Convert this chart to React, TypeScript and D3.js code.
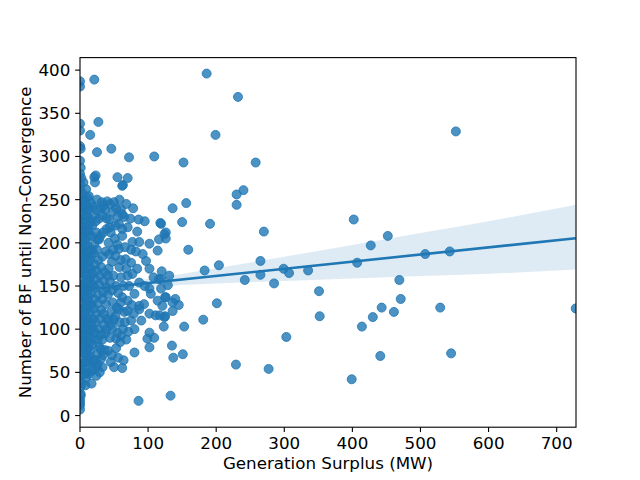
import * as d3 from "d3";

const WIDTH = 640;
const HEIGHT = 480;
const MARGIN = { top: 57.6, right: 64, bottom: 52.8, left: 80 };
const BLUE = "#1f77b4";
const FONT = "DejaVu Sans, sans-serif";
const FONT_SIZE = 16.7;

// [generation surplus (MW), number of BF until non-convergence]
const edgePoints: [number, number][] = [
  [0, 387], [0, 381], [0, 338], [0, 330], [0, 312], [1, 309], [0, 295], [1, 287],
  [0, 280], [2, 275], [0, 268], [0, 262], [1, 255], [0, 248], [0, 241], [1, 235],
  [0, 228], [0, 221], [1, 214], [0, 207], [0, 200], [1, 193], [0, 186], [0, 179],
  [1, 172], [0, 165], [0, 158], [1, 151], [0, 144], [0, 137], [1, 130], [0, 123],
  [0, 116], [1, 109], [0, 102], [0, 95], [1, 88], [0, 81], [0, 74], [1, 67],
  [0, 60], [0, 53], [1, 46], [0, 39], [0, 32], [1, 25], [0, 18], [0, 12],
  [0, 7], [1, 23], [0, 15],
];

const lowSurplus: [number, number][] = [
  [3, 258], [5, 270], [6, 250], [4, 242], [8, 246], [10, 238], [3, 231], [7, 226],
  [12, 230], [5, 218], [9, 214], [13, 220], [4, 207], [8, 203], [11, 197], [14, 208],
  [3, 194], [6, 188], [10, 185], [13, 190], [4, 178], [8, 175], [12, 171], [15, 180],
  [5, 165], [9, 162], [13, 158], [3, 152], [7, 148], [11, 145], [14, 150], [4, 139],
  [8, 135], [12, 132], [6, 126], [10, 122], [14, 118], [3, 115], [7, 110], [11, 106],
  [5, 100], [9, 96], [13, 92], [4, 86], [8, 82], [12, 78], [6, 72], [10, 68],
  [14, 64], [3, 58], [7, 55], [11, 50], [9, 44], [3, 37], [8, 35], [13, 62],
  [15, 100], [15, 128], [15, 160], [13, 240], [2, 100], [2, 140], [2, 180], [2, 220],
];

const midSurplus: [number, number][] = [
  [17, 37], [20, 54], [25, 71], [30, 77], [33, 88], [33, 56], [18, 82], [22, 95],
  [28, 100], [35, 105], [19, 112], [24, 118], [31, 122], [38, 129], [17, 128], [21, 135],
  [27, 140], [34, 143], [39, 148], [18, 152], [23, 158], [29, 162], [36, 166], [16, 170],
  [22, 175], [27, 180], [33, 184], [38, 190], [17, 192], [21, 198], [26, 204], [30, 208],
  [34, 212], [39, 216], [18, 220], [23, 225], [28, 228], [33, 232], [37, 238], [19, 242],
  [25, 250], [32, 247], [35, 243], [13, 254], [21, 276], [23, 278], [22, 270], [27, 340],
  [25, 305], [28, 204], [20, 89], [16, 100], [37, 95], [26, 60], [31, 66], [36, 76],
  [39, 112], [24, 46], [19, 62], [15, 75], [21, 389], [15, 325],
];

const denseFill: [number, number][] = [
  [6, 240], [11, 252], [16, 246], [9, 230], [15, 225], [20, 232], [6, 212], [12, 214],
  [17, 208], [24, 212], [7, 198], [16, 185], [20, 188], [25, 192], [6, 182], [11, 178],
  [18, 165], [24, 168], [31, 172], [6, 170], [10, 155], [16, 142], [22, 148], [28, 152],
  [35, 156], [5, 145], [9, 128], [13, 138], [20, 124], [26, 130], [33, 135], [7, 118],
  [12, 112], [17, 106], [23, 108], [29, 112], [35, 118], [6, 108], [10, 90], [14, 84],
  [20, 100], [26, 88], [31, 94], [39, 100], [5, 92], [9, 76], [15, 68], [22, 64],
  [28, 80], [34, 70], [5, 80], [8, 62], [13, 48], [18, 52], [25, 56], [29, 50],
  [6, 48], [42, 110], [45, 105], [47, 145], [54, 125], [41, 162], [49, 192], [55, 198],
  [60, 180], [44, 218], [39, 228], [30, 240], [24, 238], [9, 262], [40, 248],
  [53, 240], [65, 230], [70, 218], [75, 192], [68, 170], [72, 150], [76, 128], [66, 108],
  [71, 97], [79, 118],
];

const upperMidSurplus: [number, number][] = [
  [46, 309], [55, 276], [63, 267], [62, 266], [50, 247], [60, 239], [62, 233], [43, 227],
  [57, 222], [62, 216], [45, 212], [62, 208], [57, 193], [67, 181], [43, 187], [60, 160],
  [53, 150], [62, 137], [48, 131], [60, 131], [57, 123], [50, 111], [48, 100], [55, 96],
  [53, 89], [50, 56], [64, 64], [42, 170], [47, 178], [52, 185], [58, 172], [44, 155],
  [49, 162], [56, 142], [41, 140], [46, 120], [52, 115], [58, 108], [63, 100], [44, 90],
  [59, 85], [41, 75], [47, 70], [53, 78], [60, 92], [65, 120], [64, 150], [42, 200],
  [51, 205], [55, 230], [44, 245], [58, 250], [48, 236], [52, 220], [45, 62], [56, 67],
  [62, 55],
];

const hundredRange: [number, number][] = [
  [72, 299], [109, 300], [70, 275], [74, 228], [86, 227], [84, 213], [77, 201], [87, 201],
  [102, 199], [114, 191], [116, 204], [126, 212], [118, 223], [75, 177], [84, 170], [97, 179],
  [102, 170], [116, 158], [131, 162], [70, 162], [77, 164], [87, 154], [102, 147], [119, 147],
  [126, 137], [70, 133], [80, 141], [87, 127], [104, 141], [114, 133], [121, 127], [70, 121],
  [87, 123], [94, 129], [102, 118], [111, 116], [124, 114], [80, 100], [102, 96], [99, 89],
  [109, 90], [102, 79], [80, 73], [86, 17], [68, 88], [75, 110], [90, 110], [95, 150],
  [92, 187], [66, 195], [108, 160], [82, 190], [95, 225], [68, 245], [78, 240],
  [120, 167], [119, 158], [129, 151], [125, 137], [140, 135], [136, 131], [145, 128], [136, 121],
  [125, 115], [117, 116], [123, 103], [153, 103], [181, 111], [201, 130], [135, 81], [137, 67],
  [151, 71], [133, 23], [159, 192], [183, 168], [204, 174],
];

const highSurplus: [number, number][] = [
  [186, 396], [232, 369], [199, 325], [152, 293], [258, 293], [240, 261], [230, 256], [230, 244],
  [156, 246], [136, 240], [150, 224], [191, 222], [270, 213], [119, 222], [124, 210], [126, 205],
  [265, 179], [265, 163], [242, 157], [285, 153], [299, 170], [307, 165], [335, 168], [351, 144],
  [352, 115], [303, 91], [229, 59], [277, 54],
  [552, 329], [402, 227], [427, 197], [452, 208], [407, 177], [507, 187], [543, 190], [469, 157],
  [471, 135], [443, 125], [461, 120], [430, 114], [414, 103], [529, 125], [441, 69], [545, 72],
  [399, 42], [728, 124],
];

// fitted regression line and its confidence band
const fitX = [0, 728];
const fitY = [145.2, 205.3];
const bandX = [0, 50, 100, 200, 300, 400, 500, 600, 728];
const bandLow = [140.0, 145.3, 148.8, 152.9, 155.9, 158.7, 161.5, 164.2, 169.0];
const bandHigh = [150.4, 153.3, 158.0, 170.5, 183.9, 197.5, 211.3, 225.0, 244.0];

const xTicks = [0, 100, 200, 300, 400, 500, 600, 700];
const yTicks = [0, 50, 100, 150, 200, 250, 300, 350, 400];

export default function App() {
  const boundsWidth = WIDTH - MARGIN.left - MARGIN.right;
  const boundsHeight = HEIGHT - MARGIN.top - MARGIN.bottom;

  const xScale = d3.scaleLinear().domain([0, 728.4]).range([0, boundsWidth]);
  const yScale = d3.scaleLinear().domain([-13.5, 414.5]).range([boundsHeight, 0]);

  const allPoints = [
    ...edgePoints,
    ...lowSurplus,
    ...midSurplus,
    ...denseFill,
    ...upperMidSurplus,
    ...hundredRange,
    ...highSurplus,
  ];

  const bandPath = d3
    .area<number>()
    .x((d) => xScale(bandX[d]))
    .y0((d) => yScale(bandLow[d]))
    .y1((d) => yScale(bandHigh[d]))
    .curve(d3.curveMonotoneX)(bandX.map((_, i) => i));

  const linePath = d3
    .line<number>()
    .x((d) => xScale(fitX[d]))
    .y((d) => yScale(fitY[d]))(fitX.map((_, i) => i));

  return (
    <svg
      width={WIDTH}
      height={HEIGHT}
      style={{ position: "absolute", left: 0, top: 0, background: "white" }}
    >
      <defs>
        <clipPath id="plot-area">
          <rect x={0} y={0} width={boundsWidth} height={boundsHeight} />
        </clipPath>
      </defs>
      <g transform={`translate(${MARGIN.left},${MARGIN.top})`}>
        <g clipPath="url(#plot-area)">
          {allPoints.map(([x, y], i) => (
            <circle
              key={i}
              cx={xScale(x)}
              cy={yScale(y)}
              r={4.5}
              fill={BLUE}
              fillOpacity={0.8}
              stroke={BLUE}
              strokeOpacity={0.8}
              strokeWidth={1}
            />
          ))}
          <path d={bandPath ?? ""} fill={BLUE} fillOpacity={0.15} stroke="none" />
          <path d={linePath ?? ""} fill="none" stroke={BLUE} strokeWidth={2.6} />
        </g>

        {/* axes frame */}
        <rect
          x={0}
          y={0}
          width={boundsWidth}
          height={boundsHeight}
          fill="none"
          stroke="black"
          strokeWidth={1.1}
        />

        {xTicks.map((t) => (
          <g key={t} transform={`translate(${xScale(t)},${boundsHeight})`}>
            <line y1={0} y2={4.9} stroke="black" strokeWidth={1.1} />
            <text
              y={22}
              textAnchor="middle"
              fontSize={FONT_SIZE}
              fontFamily={FONT}
              fill="black"
            >
              {t}
            </text>
          </g>
        ))}

        {yTicks.map((t) => (
          <g key={t} transform={`translate(0,${yScale(t)})`}>
            <line x1={-4.9} x2={0} stroke="black" strokeWidth={1.1} />
            <text
              x={-9.7}
              textAnchor="end"
              dominantBaseline="central"
              fontSize={FONT_SIZE}
              fontFamily={FONT}
              fill="black"
            >
              {t}
            </text>
          </g>
        ))}

        <text
          x={boundsWidth / 2}
          y={boundsHeight + 41.5}
          textAnchor="middle"
          fontSize={FONT_SIZE}
          fontFamily={FONT}
          fill="black"
        >
          Generation Surplus (MW)
        </text>
        <text
          transform={`translate(${25 - MARGIN.left},${boundsHeight / 2}) rotate(-90)`}
          textAnchor="middle"
          dominantBaseline="central"
          fontSize={FONT_SIZE}
          fontFamily={FONT}
          fill="black"
        >
          Number of BF until Non-Convergence
        </text>
      </g>
    </svg>
  );
}
